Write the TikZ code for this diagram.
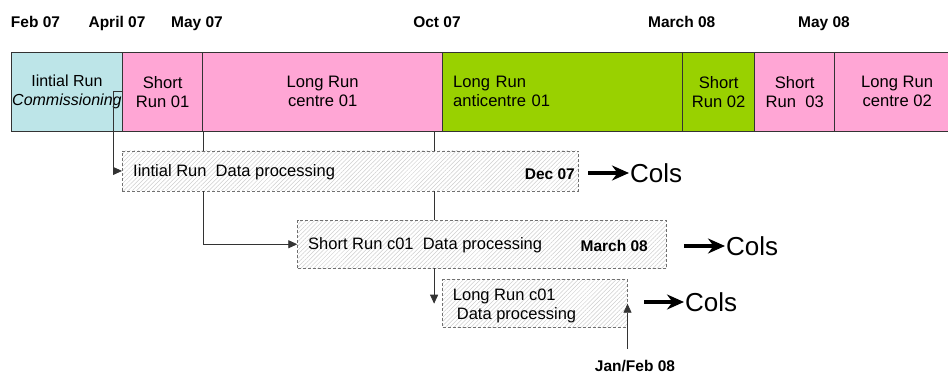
\documentclass[tikz,border=0pt]{standalone}
\usepackage{fontspec}
\setmainfont{Liberation Sans}
\usepackage{tikz}
\usetikzlibrary{arrows.meta,patterns.meta}
\definecolor{RunCyan}{HTML}{BDE5E8}
\definecolor{RunPink}{HTML}{FFA6D5}
\definecolor{RunGreen}{HTML}{99D100}
\definecolor{RunLine}{HTML}{333333}
\definecolor{ProcDash}{HTML}{707070}
\definecolor{ProcHatch}{HTML}{CFCFCF}

\begin{document}
\begin{tikzpicture}[x=1pt,y=-1pt,
  runbox/.style={draw=RunLine,line width=0.8pt,anchor=north west,minimum height=79.3pt,inner sep=0pt,align=center,font=\fontsize{16.6}{19}\selectfont},
  procbox/.style={draw=ProcDash,dash pattern=on 3pt off 2pt,line width=0.8pt,anchor=north west,inner sep=0pt,pattern={Lines[angle=45,distance=3pt,line width=0.5pt]},pattern color=ProcHatch},
  proctext/.style={anchor=base west,inner sep=0pt,align=left,font=\fontsize{16.5}{19}\selectfont},
  datelbl/.style={anchor=base,inner sep=0pt,font=\fontsize{15.5}{18}\selectfont\bfseries},
  flow/.style={draw=RunLine,line width=0.8pt,-{Triangle[length=9pt,width=8pt]}},
  link/.style={draw=RunLine,line width=0.8pt},
  colsarrow/.style={line width=4.5pt,-{Stealth[length=17pt,width=15pt]}},
  colstext/.style={anchor=west,inner sep=1pt,font=\fontsize{26}{30}\selectfont}]
\path[use as bounding box,fill=white] (0,0) rectangle (948,374);
% dates above the runs
\node[datelbl] (feb07) at (35.5,27.5) {Feb 07};
\node[datelbl] (apr07) at (117,27.5) {April 07};
\node[datelbl] (may07) at (197,27.5) {May 07};
\node[datelbl] (oct07) at (437,27.5) {Oct 07};
\node[datelbl] (mar08) at (681.7,27.5) {March 08};
\node[datelbl] (may08) at (824,27.5) {May 08};
% run bar
\node[runbox,fill=RunCyan,minimum width=111.6pt,font=\fontsize{16}{19}\selectfont] (init) at (10.7,51.7) {Iintial Run\\\textit{Commissioning}};
\node[runbox,fill=RunPink,minimum width=80pt] (short1) at (122.3,51.7) {Short\\Run 01};
\node[runbox,fill=RunPink,minimum width=240pt] (long1) at (202.3,51.7) {Long Run\\centre 01};
\node[runbox,fill=RunGreen,minimum width=240pt,inner xsep=10.5pt,text width=219pt,align=left] (anti1) at (442.3,51.7) {Long Run\\anticentre 01};
\node[runbox,fill=RunGreen,minimum width=72pt] (short2) at (682.3,51.7) {Short\\Run 02};
\node[runbox,fill=RunPink,minimum width=80pt] (short3) at (754.3,51.7) {Short\\Run~~03};
\node[runbox,fill=RunPink,minimum width=125pt] (long2) at (834.3,51.7) {Long Run\\centre 02};
% data processing boxes
\node[procbox,minimum width=456.3pt,minimum height=40pt] (proc1) at (122,150.7) {};
\node[procbox,minimum width=368.7pt,minimum height=47.7pt] (proc2) at (297.3,220) {};
\node[procbox,minimum width=184.4pt,minimum height=48pt] (proc3) at (442.3,279.3) {};
\node[proctext] (proc1txt) at (133,177) {Iintial Run~~Data processing};
\node[datelbl,anchor=base east] (dec07) at (575,180) {Dec 07};
\node[proctext] (proc2txt) at (308,250) {Short Run c01~~Data processing};
\node[datelbl,anchor=base east] (mar08b) at (648,251.7) {March 08};
\node[proctext,anchor=north west] (proc3txt) at (452.7,288.5) {Long Run c01\\\hspace{4pt}Data processing};
\node[datelbl] (janfeb) at (635,371) {Jan/Feb 08};
% Cols outputs
\node[colstext] (cols1) at (629,173) {Cols};
\node[colstext] (cols2) at (725,246) {Cols};
\node[colstext] (cols3) at (684,302) {Cols};
\draw[colsarrow] ([xshift=-41pt]cols1.west) -- (cols1.west);
\draw[colsarrow] ([xshift=-41pt]cols2.west) -- (cols2.west);
\draw[colsarrow] ([xshift=-40pt]cols3.west) -- (cols3.west);
% connectors
\coordinate (long1x) at ([xshift=-9pt]long1.south east);
\draw[flow] (init.east) -- ++(-9.5,0) |- (proc1.west);
\draw[link] (short1.south east) -- (short1.south east |- proc1.north);
\draw[flow] (proc1.south -| short1.south east) |- (proc2.west);
\draw[link] (long1x) -- (long1x |- proc1.north);
\draw[link] (proc1.south -| long1x) -- (proc2.north -| long1x);
\draw[flow] (proc2.south -| long1x) -- (long1x |- proc3.west);
\draw[flow] ([yshift=11pt]janfeb.north -| proc3.east) -- (proc3.east);
\end{tikzpicture}
\end{document}
